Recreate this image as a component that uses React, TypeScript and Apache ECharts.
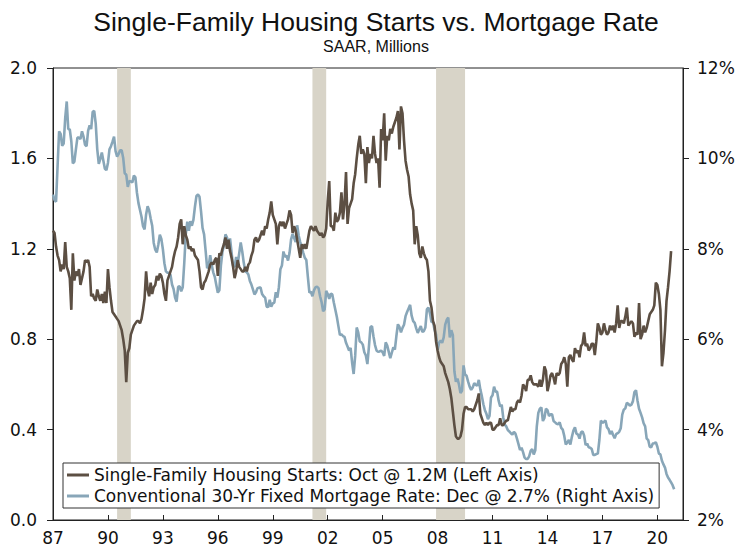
import { useEffect, useRef } from 'react';
import * as echarts from 'echarts';

// Monthly data, starting January 1987
const START_YEAR = 1987;

// Single-family housing starts, SAAR, millions (Jan 1987 - Oct 2020)
const startsValues = [
  1.28, 1.27, 1.21, 1.17, 1.15, 1.10, 1.13, 1.11, 1.23, 1.12, 1.10, 1.07,
  0.93, 1.18, 1.06, 1.10, 1.08, 1.11, 1.04, 1.07, 1.10, 1.15, 1.14, 1.15,
  1.12, 0.99, 1.00, 0.98, 0.97, 1.02, 0.99, 0.97, 1.00, 0.96, 1.01, 0.96,
  1.11, 1.03, 0.97, 0.92, 0.91, 0.90, 0.89, 0.88, 0.86, 0.84, 0.80, 0.75,
  0.61, 0.74, 0.76, 0.82, 0.84, 0.86, 0.87, 0.88, 0.88, 0.87, 0.89, 0.93,
  0.98, 1.10, 1.02, 0.99, 1.05, 1.00, 1.03, 1.04, 1.08, 1.06, 1.09, 1.08,
  1.05, 1.00, 0.97, 1.06, 1.08, 1.10, 1.12, 1.16, 1.19, 1.21, 1.25, 1.31,
  1.33, 1.22, 1.30, 1.26, 1.24, 1.20, 1.21, 1.19, 1.20, 1.17, 1.16, 1.15,
  1.10, 1.03, 1.02, 1.05, 1.06, 1.08, 1.10, 1.13, 1.14, 1.13, 1.15, 1.16,
  1.08, 1.18, 1.17, 1.20, 1.22, 1.25, 1.20, 1.24, 1.19, 1.16, 1.12, 1.07,
  1.10, 1.15, 1.12, 1.11, 1.10, 1.10, 1.12, 1.10, 1.13, 1.14, 1.17, 1.19,
  1.24, 1.25, 1.23, 1.24, 1.26, 1.28, 1.26, 1.30, 1.29, 1.33, 1.36, 1.41,
  1.35, 1.33, 1.31, 1.22, 1.30, 1.32, 1.30, 1.32, 1.29, 1.31, 1.33, 1.37,
  1.35, 1.27, 1.30, 1.28, 1.24, 1.20, 1.16, 1.22, 1.20, 1.22, 1.20, 1.24,
  1.28, 1.30, 1.29, 1.28, 1.30, 1.28, 1.27, 1.26, 1.27, 1.25, 1.26, 1.29,
  1.41, 1.50, 1.30, 1.30, 1.28, 1.36, 1.32, 1.33, 1.36, 1.45, 1.33, 1.40,
  1.54, 1.31, 1.38, 1.40, 1.42, 1.49, 1.53, 1.60, 1.66, 1.70, 1.62, 1.64,
  1.62, 1.49, 1.65, 1.58, 1.62, 1.60, 1.70, 1.62, 1.58, 1.60, 1.47, 1.73,
  1.68, 1.80, 1.59, 1.70, 1.68, 1.73, 1.71, 1.74, 1.76, 1.78, 1.81, 1.64,
  1.83, 1.80, 1.68, 1.59, 1.55, 1.52, 1.44, 1.40, 1.37, 1.22, 1.30, 1.26,
  1.18, 1.16, 1.21, 1.18, 1.16, 1.15, 1.10, 0.97, 0.94, 0.88, 0.86, 0.79,
  0.75, 0.72, 0.70, 0.69, 0.68, 0.65, 0.63, 0.61, 0.58, 0.54, 0.48, 0.42,
  0.37, 0.36, 0.36, 0.37, 0.40, 0.47, 0.50, 0.50, 0.49, 0.49, 0.49, 0.48,
  0.49, 0.51, 0.53, 0.56, 0.47, 0.45, 0.43, 0.42, 0.43, 0.42, 0.43, 0.43,
  0.40, 0.40, 0.41, 0.42, 0.42, 0.45, 0.42, 0.42, 0.43, 0.44, 0.44, 0.47,
  0.50, 0.48, 0.49, 0.49, 0.52, 0.53, 0.52, 0.55, 0.60, 0.59, 0.57, 0.62,
  0.62, 0.64, 0.61, 0.60, 0.60, 0.60, 0.59, 0.62, 0.59, 0.62, 0.68, 0.66,
  0.57, 0.60, 0.64, 0.65, 0.63, 0.60, 0.65, 0.64, 0.65, 0.69, 0.70, 0.72,
  0.69, 0.59, 0.72, 0.73, 0.71, 0.70, 0.76, 0.74, 0.75, 0.72, 0.77, 0.78,
  0.83, 0.77, 0.78, 0.75, 0.76, 0.78, 0.78, 0.73, 0.79, 0.87, 0.85, 0.82,
  0.83, 0.87, 0.84, 0.82, 0.83, 0.86, 0.84, 0.86, 0.83, 0.87, 0.95, 0.85,
  0.88, 0.88, 0.87, 0.90, 0.94, 0.86, 0.87, 0.88, 0.87, 0.81, 0.83, 0.82,
  0.96, 0.80, 0.82, 0.86, 0.83, 0.85, 0.88, 0.91, 0.92, 0.93, 0.95, 1.05,
  1.04, 1.00, 0.93, 0.68, 0.74, 0.84, 0.97, 1.03, 1.10, 1.19,
];

// Conventional 30-yr fixed mortgage rate, % (Jan 1987 - Dec 2020)
const rateValues = [
  9.20, 9.08, 9.04, 9.83, 10.60, 10.54, 10.28, 10.33, 10.89, 11.26, 10.65, 10.64,
  10.38, 9.89, 9.93, 10.20, 10.46, 10.46, 10.43, 10.60, 10.48, 10.30, 10.27, 10.61,
  10.73, 10.65, 11.03, 11.05, 10.77, 10.20, 9.88, 9.99, 10.13, 9.95, 9.77, 9.74,
  9.90, 10.20, 10.27, 10.37, 10.48, 10.16, 10.04, 10.10, 10.18, 10.18, 10.01, 9.67,
  9.64, 9.37, 9.50, 9.49, 9.47, 9.62, 9.58, 9.24, 9.01, 8.86, 8.71, 8.50,
  8.43, 8.76, 8.94, 8.85, 8.67, 8.51, 8.13, 7.98, 7.92, 8.09, 8.31, 8.22,
  7.99, 7.68, 7.50, 7.47, 7.47, 7.42, 7.21, 7.11, 6.92, 6.83, 7.16, 7.17,
  7.06, 7.15, 7.68, 8.32, 8.60, 8.40, 8.61, 8.51, 8.64, 8.93, 9.17, 9.20,
  9.15, 8.83, 8.46, 8.32, 7.96, 7.57, 7.61, 7.86, 7.64, 7.48, 7.38, 7.20,
  7.03, 7.08, 7.62, 7.93, 8.07, 8.32, 8.25, 8.00, 8.23, 7.92, 7.62, 7.60,
  7.82, 7.65, 7.90, 8.14, 7.94, 7.69, 7.50, 7.48, 7.43, 7.29, 7.21, 7.10,
  6.99, 7.04, 7.13, 7.14, 7.14, 7.00, 6.95, 6.92, 6.72, 6.71, 6.87, 6.72,
  6.79, 6.81, 7.04, 6.92, 7.15, 7.55, 7.63, 7.94, 7.82, 7.85, 7.74, 7.91,
  8.21, 8.33, 8.24, 8.15, 8.52, 8.29, 8.15, 8.03, 7.91, 7.80, 7.75, 7.38,
  7.03, 7.05, 6.95, 7.08, 7.15, 7.16, 7.13, 6.95, 6.82, 6.62, 6.66, 7.07,
  7.00, 6.89, 7.01, 6.99, 6.81, 6.65, 6.49, 6.29, 6.09, 6.11, 6.07, 6.05,
  5.92, 5.84, 5.75, 5.81, 5.48, 5.23, 5.63, 6.26, 6.15, 5.95, 5.93, 5.88,
  5.71, 5.64, 5.45, 5.83, 6.27, 6.29, 6.06, 5.87, 5.75, 5.72, 5.73, 5.75,
  5.71, 5.63, 5.93, 5.86, 5.72, 5.58, 5.70, 5.82, 5.77, 6.07, 6.33, 6.27,
  6.15, 6.25, 6.32, 6.51, 6.60, 6.68, 6.76, 6.52, 6.40, 6.36, 6.24, 6.14,
  6.22, 6.29, 6.16, 6.18, 6.26, 6.66, 6.70, 6.57, 6.38, 6.38, 6.21, 6.10,
  5.76, 5.92, 5.97, 5.92, 6.04, 6.32, 6.43, 6.48, 6.04, 6.20, 6.09, 5.29,
  5.06, 5.13, 5.00, 4.81, 4.86, 5.42, 5.22, 5.19, 5.06, 4.95, 4.88, 4.93,
  5.03, 4.99, 4.97, 5.10, 4.89, 4.74, 4.56, 4.43, 4.35, 4.23, 4.30, 4.71,
  4.76, 4.95, 4.84, 4.84, 4.64, 4.51, 4.55, 4.27, 4.11, 4.07, 3.99, 3.96,
  3.92, 3.89, 3.95, 3.91, 3.80, 3.68, 3.55, 3.60, 3.50, 3.38, 3.35, 3.35,
  3.41, 3.53, 3.57, 3.45, 3.54, 4.07, 4.37, 4.46, 4.49, 4.19, 4.26, 4.46,
  4.43, 4.30, 4.34, 4.34, 4.19, 4.16, 4.13, 4.12, 4.16, 4.04, 4.00, 3.86,
  3.67, 3.71, 3.77, 3.67, 3.84, 3.98, 4.05, 3.91, 3.89, 3.80, 3.94, 3.96,
  3.87, 3.66, 3.69, 3.61, 3.60, 3.57, 3.44, 3.44, 3.46, 3.47, 3.77, 4.20,
  4.15, 4.17, 4.20, 4.05, 4.01, 3.90, 3.97, 3.88, 3.81, 3.90, 3.92, 3.95,
  4.03, 4.33, 4.44, 4.47, 4.59, 4.57, 4.53, 4.55, 4.63, 4.83, 4.87, 4.64,
  4.46, 4.37, 4.27, 4.14, 4.07, 3.80, 3.77, 3.62, 3.61, 3.69, 3.70, 3.72,
  3.62, 3.47, 3.45, 3.31, 3.23, 3.16, 3.02, 2.94, 2.89, 2.83, 2.77, 2.68,
];

// Recessions: [start year, start month, end year, end month]
const recessions = [
  [1990, 7, 1991, 3],
  [2001, 3, 2001, 11],
  [2007, 12, 2009, 6],
];

const xTickYears = [1987, 1990, 1993, 1996, 1999, 2002, 2005, 2008, 2011, 2014, 2017, 2020];
const leftTicks = [0, 0.4, 0.8, 1.2, 1.6, 2.0];
const rightTicks = [2, 4, 6, 8, 10, 12];

const startsName = 'Single-Family Housing Starts: Oct @ 1.2M (Left Axis)';
const rateName = 'Conventional 30-Yr Fixed Mortgage Rate: Dec @ 2.7% (Right Axis)';

const BROWN = '#5c4f43';
const BLUE = '#88a6b8';
const SHADE = '#d8d4c8';
const AXIS = '#222';
const LABEL_FONT = "Verdana, 'DejaVu Sans', sans-serif";
const TITLE_FONT = "'Liberation Sans Narrow', 'Liberation Sans', Arial, sans-serif";

const toYear = (i: number) => START_YEAR + i / 12;

export default function App() {
  const ref = useRef<HTMLDivElement>(null);
  useEffect(() => {
    document.body.style.margin = '0';
    if (!ref.current) return;
    const chart = echarts.init(ref.current, undefined, { renderer: 'svg' });
    chart.setOption({
      animation: false,
      backgroundColor: '#fff',
      title: {
        text: 'Single-Family Housing Starts vs. Mortgage Rate',
        subtext: 'SAAR, Millions',
        left: 'center',
        top: 3,
        itemGap: 3,
        textStyle: {
          fontFamily: TITLE_FONT,
          fontSize: 26.5,
          fontWeight: 'normal',
          color: '#111',
        },
        subtextStyle: {
          fontFamily: TITLE_FONT,
          fontSize: 16,
          color: '#111',
        },
      },
      grid: {
        left: 53,
        right: 69,
        top: 68,
        bottom: 28,
        show: true,
        borderColor: AXIS,
        borderWidth: 1,
        backgroundColor: 'transparent',
      },
      legend: {
        data: [startsName, rateName],
        orient: 'vertical',
        left: 63,
        top: 463,
        backgroundColor: '#fff',
        borderColor: '#333',
        borderWidth: 1,
        borderRadius: 0,
        padding: [2, 5, 2, 4],
        itemGap: 1,
        itemWidth: 22,
        itemHeight: 3,
        icon: 'rect',
        selectedMode: false,
        textStyle: { fontFamily: LABEL_FONT, fontSize: 17, color: '#111', lineHeight: 20 },
      },
      xAxis: {
        type: 'value',
        min: START_YEAR,
        max: 2021.4,
        splitLine: { show: false },
        axisLine: { lineStyle: { color: AXIS, width: 1 } },
        axisTick: {
          inside: true,
          length: 5,
          lineStyle: { color: AXIS },
          customValues: xTickYears,
        },
        axisLabel: {
          customValues: xTickYears,
          formatter: (v: number) => String(Math.round(v) % 100).padStart(2, '0'),
          fontFamily: LABEL_FONT,
          fontSize: 17,
          color: '#111',
          margin: 9,
        },
      },
      yAxis: [
        {
          type: 'value',
          min: 0,
          max: 2,
          interval: 0.4,
          position: 'left',
          splitLine: { show: false },
          axisLine: { show: true, lineStyle: { color: AXIS } },
          axisTick: { show: true, length: 6, lineStyle: { color: AXIS }, customValues: leftTicks },
          axisLabel: {
            customValues: leftTicks,
            formatter: (v: number) => v.toFixed(1),
            fontFamily: LABEL_FONT,
            fontSize: 17,
            color: '#111',
            margin: 16,
          },
        },
        {
          type: 'value',
          min: 2,
          max: 12,
          interval: 2,
          position: 'right',
          splitLine: { show: false },
          axisLine: { show: true, lineStyle: { color: AXIS } },
          axisTick: { show: true, length: 6, lineStyle: { color: AXIS }, customValues: rightTicks },
          axisLabel: {
            customValues: rightTicks,
            formatter: (v: number) => `${v}%`,
            fontFamily: LABEL_FONT,
            fontSize: 17,
            color: '#111',
            margin: 14,
          },
        },
      ],
      series: [
        {
          name: 'Recession',
          type: 'line',
          data: [],
          z: 1,
          silent: true,
          markArea: {
            silent: true,
            itemStyle: { color: SHADE, opacity: 1 },
            data: recessions.map(([y1, m1, y2, m2]) => [
              { xAxis: y1 + (m1 - 1) / 12 },
              { xAxis: y2 + m2 / 12 },
            ]),
          },
        },
        {
          name: rateName,
          type: 'line',
          yAxisIndex: 1,
          data: rateValues.map((v, i) => [toYear(i), v]),
          showSymbol: false,
          symbol: 'none',
          lineStyle: { color: BLUE, width: 2.6 },
          itemStyle: { color: BLUE },
          z: 3,
        },
        {
          name: startsName,
          type: 'line',
          yAxisIndex: 0,
          data: startsValues.map((v, i) => [toYear(i), v]),
          showSymbol: false,
          symbol: 'none',
          lineStyle: { color: BROWN, width: 2.6 },
          itemStyle: { color: BROWN },
          z: 4,
        },
      ],
    });
    return () => chart.dispose();
  }, []);
  return <div ref={ref} style={{ width: 752, height: 548 }} />;
}
